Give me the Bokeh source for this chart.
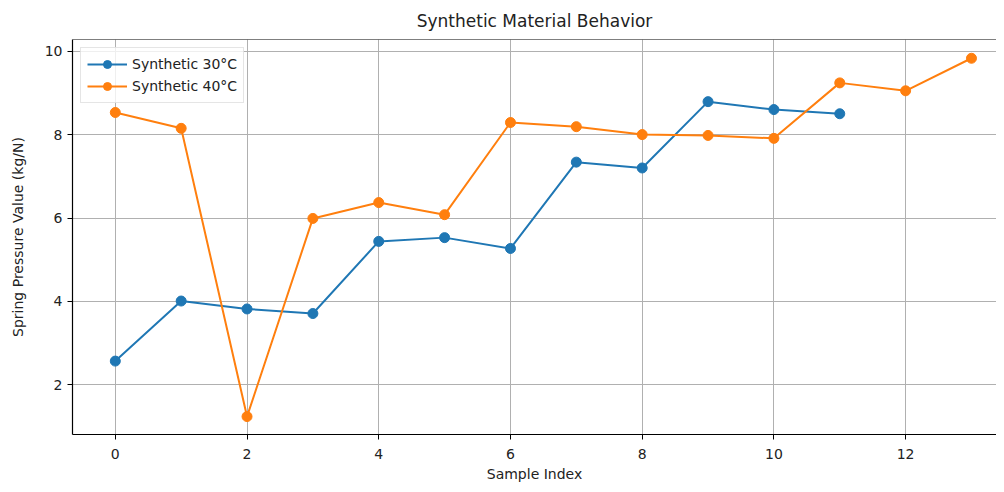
from bokeh.plotting import figure
from bokeh.models import Range1d, Span, Legend, LegendItem, FixedTicker
from bokeh.embed import file_html
from bokeh.resources import INLINE

idx_30 = list(range(12))
vals_30 = [2.57, 4.01, 3.82, 3.71, 5.44, 5.53, 5.27, 7.34, 7.20, 8.79, 8.60, 8.50]
idx_40 = list(range(14))
vals_40 = [8.53, 8.15, 1.24, 5.99, 6.37, 6.08, 8.29, 8.19, 8.00, 7.98, 7.91, 9.24, 9.05, 9.83]
x_ticks = [0, 2, 4, 6, 8, 10, 12]
y_ticks = [2, 4, 6, 8, 10]

FONT = "DejaVu Sans"

p = figure(width=996, height=484, output_backend="svg", toolbar_location=None,
           x_range=Range1d(-0.65, 13.38), y_range=Range1d(0.81, 10.28),
           title="Synthetic Material Behavior",
           min_border_left=72, min_border_right=0, min_border_top=0, min_border_bottom=0)

p.title.align = "center"
p.title.text_font = FONT
p.title.text_font_size = "17px"
p.title.text_font_style = "normal"
p.title.text_color = "#222222"
p.title.standoff = 17

p.outline_line_color = None
p.add_layout(Span(location=10.28, dimension="width", line_color="black", line_width=1.2))

for ax in (p.xaxis[0], p.yaxis[0]):
    ax.axis_line_color = "black"
    ax.axis_line_width = 1.2
    ax.major_tick_line_color = "black"
    ax.major_tick_out = 5
    ax.major_tick_in = 0
    ax.minor_tick_line_color = None
    ax.major_label_text_font = FONT
    ax.major_label_text_font_size = "14px"
    ax.major_label_text_color = "#222222"
    ax.axis_label_text_font = FONT
    ax.axis_label_text_font_size = "14px"
    ax.axis_label_text_font_style = "normal"
    ax.axis_label_text_color = "#222222"

p.xaxis.ticker = FixedTicker(ticks=x_ticks)
p.yaxis.ticker = FixedTicker(ticks=y_ticks)
p.xaxis.axis_label = "Sample Index"
p.yaxis.axis_label = "Spring Pressure Value (kg/N)"
p.xaxis.major_label_standoff = 9
p.xaxis.axis_label_standoff = 4
p.xaxis.axis_label_text_line_height = 1.0
p.xaxis.major_label_text_line_height = 1.0
p.yaxis.axis_label_standoff = 16

p.grid.grid_line_color = "#b0b0b0"
p.grid.grid_line_width = 1

c30 = "#1f77b4"
c40 = "#ff7f0e"
l30 = p.line(idx_30, vals_30, line_color=c30, line_width=2)
s30 = p.scatter(idx_30, vals_30, size=10, fill_color=c30, line_color=c30)
l40 = p.line(idx_40, vals_40, line_color=c40, line_width=2)
s40 = p.scatter(idx_40, vals_40, size=10, fill_color=c40, line_color=c40)

legend = Legend(items=[LegendItem(label="Synthetic 30°C", renderers=[l30, s30]),
                       LegendItem(label="Synthetic 40°C", renderers=[l40, s40])],
                location="top_left")
legend.label_text_font = FONT
legend.label_text_font_size = "14px"
legend.label_text_color = "#222222"
legend.border_line_color = "#cccccc"
legend.background_fill_alpha = 0.8
legend.glyph_width = 40
legend.spacing = 2
legend.margin = 8
legend.padding = 6
p.add_layout(legend)

open("out.html", "w").write(file_html(p, INLINE))
